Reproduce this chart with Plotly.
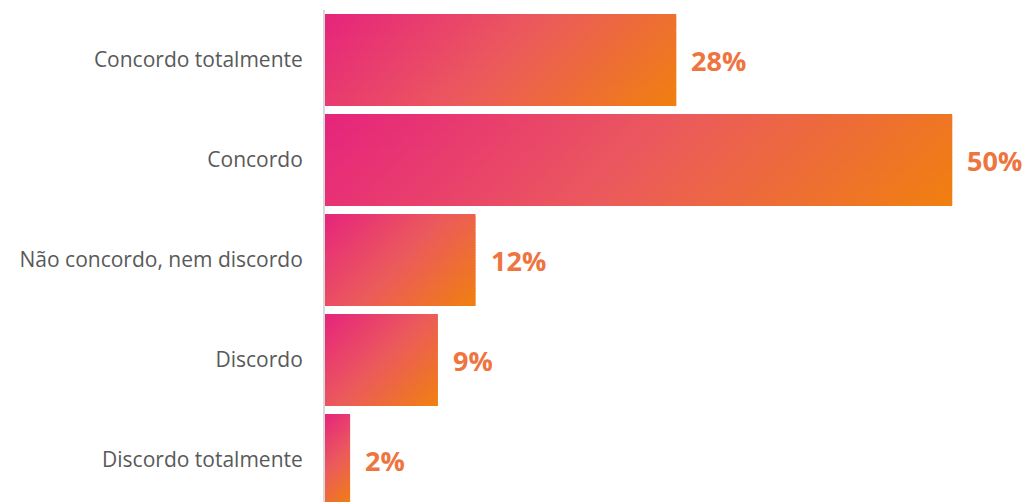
import plotly.graph_objects as go

# Survey responses (share of respondents, %)
categories = [
    "Concordo totalmente",
    "Concordo",
    "Não concordo, nem discordo",
    "Discordo",
    "Discordo totalmente",
]
values = [28, 50, 12, 9, 2]
labels = ["28%", "50%", "12%", "9%", "2%"]

# Gradient stops: pink -> coral -> orange
GRAD = [(0.0, (230, 36, 125)), (0.5, (235, 90, 92)), (1.0, (240, 128, 15))]
BAR_HALF = 0.46
N_STRIPS = 36

WIDTH, HEIGHT = 1030, 502
M_L, M_R, M_T, M_B = 325, 0, 10, 0
X_RANGE = [0, 56.2]
Y_RANGE = [4.42, -0.5]
PX_X = (WIDTH - M_L - M_R) / (X_RANGE[1] - X_RANGE[0])
PX_Y = (HEIGHT - M_T - M_B) / (Y_RANGE[0] - Y_RANGE[1])


def color_at(t):
    t = max(0.0, min(1.0, t))
    for (t0, c0), (t1, c1) in zip(GRAD, GRAD[1:]):
        if t <= t1:
            f = (t - t0) / (t1 - t0)
            r, g, b = (round(a + (c - a) * f) for a, c in zip(c0, c1))
            return f"rgb({r},{g},{b})"
    return "rgb(%d,%d,%d)" % GRAD[-1][1]


def sub_scale(ta, tb):
    """Colorscale covering the slice [ta, tb] of the main gradient."""
    pts = [ta] + [t for t, _ in GRAD if ta < t < tb] + [tb]
    return [[(t - ta) / (tb - ta), color_at(t)] for t in pts]


fig = go.Figure()

# Each bar is made of thin horizontal strips with their own horizontal
# gradient, together giving a 45-degree pink-to-orange fill.
for i, v in enumerate(values):
    top = i - BAR_HALF
    h = 2 * BAR_HALF
    w_px = v * PX_X
    h_px = h * PX_Y
    span = w_px + h_px
    for k in range(N_STRIPS):
        y0 = top + h * k / N_STRIPS
        y1 = min(top + h * (k + 1.5) / N_STRIPS, top + h)
        yc_px = h_px * (k + 0.5) / N_STRIPS
        ta = yc_px / span
        tb = (yc_px + w_px) / span
        fig.add_trace(
            go.Scatter(
                x=[0, v, v, 0, 0],
                y=[y0, y0, y1, y1, y0],
                mode="lines",
                line=dict(width=0),
                fill="toself",
                fillgradient=dict(
                    type="horizontal",
                    colorscale=sub_scale(ta, tb),
                    start=0,
                    stop=v,
                ),
                hoverinfo="skip",
                showlegend=False,
            )
        )

for i, (v, lab) in enumerate(zip(values, labels)):
    fig.add_annotation(
        x=v,
        y=i,
        text=f"<b>{lab}</b>",
        showarrow=False,
        xanchor="left",
        yanchor="middle",
        xshift=13,
        font=dict(family="Open Sans", size=27, color="#EE7440"),
    )

fig.update_layout(
    width=WIDTH,
    height=HEIGHT,
    margin=dict(l=M_L, r=M_R, t=M_T, b=M_B),
    paper_bgcolor="white",
    plot_bgcolor="white",
    showlegend=False,
    xaxis=dict(
        range=X_RANGE,
        showgrid=False,
        zeroline=False,
        showticklabels=False,
        showline=False,
    ),
    yaxis=dict(
        range=Y_RANGE,
        tickvals=list(range(len(categories))),
        ticktext=categories,
        showgrid=False,
        zeroline=False,
        showline=True,
        linecolor="#D9D9D9",
        linewidth=2,
        ticks="",
        ticklabelstandoff=16,
        tickfont=dict(family="Open Sans", size=21, color="#595959"),
    ),
)

fig.write_html("out.html")
